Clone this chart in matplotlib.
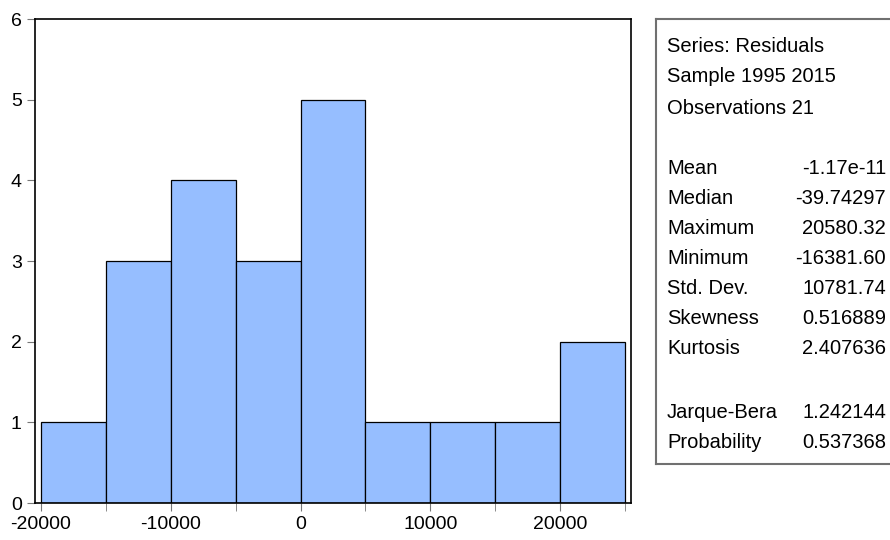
import numpy as np
import matplotlib
matplotlib.use("Agg")
import matplotlib.pyplot as plt

# histogram of residuals (bin edges and counts)
bin_edges = [-20000, -15000, -10000, -5000, 0, 5000, 10000, 15000, 20000, 25000]
counts = [1, 3, 4, 3, 5, 1, 1, 1, 2]

header_lines = ["Series: Residuals", "Sample 1995 2015", "Observations 21"]
stat_names = ["Mean", "Median", "Maximum", "Minimum", "Std. Dev.", "Skewness", "Kurtosis"]
stat_values = ["-1.17e-11", "-39.74297", "20580.32", "-16381.60", "10781.74", "0.516889", "2.407636"]
test_names = ["Jarque-Bera", "Probability"]
test_values = ["1.242144", "0.537368"]

W, H = 890, 540
plt.rcParams['font.family'] = ["Liberation Sans Narrow", "Liberation Sans", "DejaVu Sans"]
plt.rcParams['axes.unicode_minus'] = False

fig = plt.figure(figsize=(W / 100, H / 100), dpi=100)

def px(x0, y0, x1, y1):
    # pixel box (top-left origin) -> figure fraction rect
    return [x0 / W, 1 - y1 / H, (x1 - x0) / W, (y1 - y0) / H]

ax = fig.add_axes(px(35, 19, 631, 503))
widths = np.diff(bin_edges)
ax.bar(bin_edges[:-1], counts, width=widths, align='edge',
       color='#96BEFF', edgecolor='black', linewidth=0.9)
ax.set_xlim(-20462, 25462)
ax.set_ylim(0, 6)
ax.set_xticks([-20000, -10000, 0, 10000, 20000])
ax.set_xticks(bin_edges, minor=True)
ax.set_yticks(range(0, 7))
ax.tick_params(axis='both', which='both', direction='out', length=6,
               color='#777777', labelsize=14)
ax.tick_params(axis='x', which='minor', labelbottom=False)
for s in ax.spines.values():
    s.set_linewidth(1.2)

# statistics box (runs off the right edge)
bx = fig.add_axes(px(656, 19, 920, 464))
bx.set_xticks([])
bx.set_yticks([])
for s in bx.spines.values():
    s.set_color('#707070')
    s.set_linewidth(1.5)
bx.spines['right'].set_visible(False)

def put(x, y, s, ha='left'):
    fig.text(x / W, 1 - y / H, s, ha=ha, va='center', fontsize=14.5)

ys = [47, 77, 108]
for y, s in zip(ys, header_lines):
    put(667, y, s)
y = 168
for n, v in zip(stat_names, stat_values):
    put(667, y, n)
    put(886, y, v, ha='right')
    y += 30
y = 413
for n, v in zip(test_names, test_values):
    put(667, y, n)
    put(886, y, v, ha='right')
    y += 30

fig.savefig("out.png", dpi=100)
